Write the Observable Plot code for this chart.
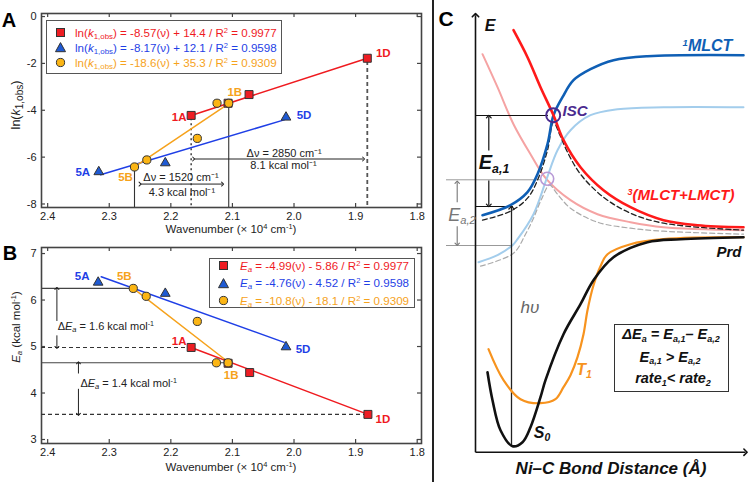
<!DOCTYPE html>
<html><head><meta charset="utf-8">
<script src="https://cdn.jsdelivr.net/npm/d3@7"></script>
<script src="https://cdn.jsdelivr.net/npm/@observablehq/plot@0.6"></script>
<style>
html,body{margin:0;padding:0;background:#fff;}
#wrap{position:relative;width:750px;height:482px;overflow:hidden;font-family:"Liberation Sans",Arial,Helvetica,sans-serif;color:#222;background:#fff;}
#wrap > svg{position:absolute;}
.lbl{position:absolute;white-space:nowrap;line-height:1;transform:translate(-50%,-50%);}
.lft{transform:translate(0,-50%);}
.sb{font-size:0.68em;position:relative;top:0.3em;}
.sp{font-size:0.65em;position:relative;top:-0.5em;}
.leg{position:absolute;background:#fff;border:1.3px solid #555;box-sizing:border-box;}
.row{position:absolute;white-space:nowrap;line-height:1;transform:translate(0,-50%);}
</style></head>
<body><div id="wrap"></div>
<script>
const wrap = document.getElementById("wrap");
const FONT = '"Liberation Sans", Arial, Helvetica, sans-serif';
const RED = "#ef1a1f", BLUE = "#1f3fe6", ORANGE = "#f6a21c";
const RED_F = "#ee1d23", BLUE_F = "#1f5ad3", ORANGE_F = "#fbb514";
const EDGE = "#333";

// ---------- shared ticks ----------
const xTicks = [2.4, 2.3, 2.2, 2.1, 2.0, 1.9, 1.8];
const yTicksA = [0, -2, -4, -6, -8];
const yTicksB = [3, 4, 5, 6, 7];

// ---------- Panel A : ln(k1,obs) vs wavenumber ----------
const wnRedA = [2.167, 2.107, 2.073, 1.881];
const lnkRed = [-4.22, -3.70, -3.33, -1.78];
const wnBlueA = [2.317, 2.209, 2.013];
const lnkBlue = [-6.63, -6.25, -4.30];
const wnOrangeA = [2.259, 2.239, 2.157, 2.125, 2.106];
const lnkOrange = [-6.42, -6.12, -5.20, -3.70, -3.70];
const fitWnRedA = [2.167, 1.881], fitLnkRed = [-4.22, -1.78];
const fitWnBlueA = [2.314, 2.016], fitLnkBlue = [-6.75, -4.41];
const fitWnOrangeA = [2.259, 2.106], fitLnkOrange = [-6.42, -3.72];
const guideSolidWnA = [2.259, 2.106], guideSolidTopA = [-6.5, -3.78];
const guideDotWnA = [2.167], guideDotTopA = [-4.36];
const guideDashWnA = [1.881], guideDashTopA = [-1.92];
const arrowX1A = [2.250, 2.163], arrowX2A = [2.116, 1.887], arrowYA = [-7.15, -6.08];
const noteTextA = ["Δν = 1520 cm⁻¹", "4.3 kcal mol⁻¹", "Δν = 2850 cm⁻¹", "8.1 kcal mol⁻¹"];
const noteWnA = [2.1835, 2.1820, 2.0160, 2.0170];
const noteLnkA = [-6.87, -7.51, -5.84, -6.37];

// ---------- Panel B : Ea vs wavenumber ----------
const wnRedB = [2.167, 2.107, 2.072, 1.880];
const eaRed = [4.98, 4.64, 4.44, 3.54];
const wnBlueB = [2.318, 2.209, 2.013];
const eaBlue = [6.38, 6.14, 4.99];
const wnOrangeB = [2.261, 2.240, 2.157, 2.126, 2.107];
const eaOrange = [6.25, 6.08, 5.54, 4.65, 4.65];
const fitWnRedB = [2.167, 1.880], fitEaRed = [4.98, 3.54];
const fitWnBlueB = [2.313, 2.016], fitEaBlue = [6.50, 5.09];
const fitWnOrangeB = [2.261, 2.110], fitEaOrange = [6.25, 4.70];
const levSolidEa = [6.25, 4.65], levSolidWn = [2.262, 2.107];
const levDashEa = [4.98, 3.54], levDashWn = [2.167, 1.880];
const arrWnB = [2.385, 2.385, 2.350, 2.350];
const arrFromB = [5.55, 5.24, 4.42, 4.09];
const arrToB = [6.25, 4.98, 4.65, 3.54];

// ---------- legends ----------
const legSlopeA = ["-8.57", "-8.17", "-18.6"], legIntA = ["+ 14.4", "+ 12.1", "+ 35.3"];
const legSlopeB = ["-4.99", "-4.76", "-10.8"], legIntB = ["- 5.86", "- 4.52", "- 18.1"];
const legR2 = ["0.9977", "0.9598", "0.9309"];

// ---------- Panel C : schematic potential energy curves (x: distance, E: energy; arbitrary units) ----------
const mlct1X = [7, 35, 52, 62, 72, 78, 87, 98, 115, 138, 172, 268];
const mlct1E = [237, 247, 260, 278, 308, 337, 355, 372, 383, 392, 396, 397];
const mlct3X = [38, 52, 65, 78, 88, 105, 128, 155, 188, 222, 268];
const mlct3E = [422, 395, 365, 337, 312, 285, 262, 245, 232, 227, 225];
const pinkX = [7, 22, 38, 55, 71, 95, 122, 155, 188, 268];
const pinkE = [398, 365, 328, 298, 273, 252, 238, 230, 225, 222];
const ltBlueX = [3, 22, 37, 42, 58, 71, 82, 95, 115, 142, 188, 268];
const ltBlueE = [190, 197, 207, 213, 238, 273, 302, 322, 337, 343, 345, 345];
const dashBkX = [7, 35, 52, 62, 72, 78, 84, 92, 105, 128, 155, 188, 268];
const dashBkE = [232, 241, 254, 272, 302, 330, 318, 300, 278, 255, 239, 229, 222];
const dashGyX = [5, 38, 50, 58, 66, 74, 82, 95, 122, 155, 188, 268];
const dashGyE = [186, 199, 218, 234, 253, 267, 258, 244, 230, 224, 221, 218];
const t1X = [13, 28, 45, 65, 80, 88, 95, 102, 108, 112, 118, 125, 132, 155, 188, 268];
const t1E = [103, 72, 53, 49, 53, 65, 77, 95, 118, 142, 167, 186, 198, 208, 213, 215];
const s0X = [12, 17, 25, 37, 47, 55, 65, 70, 88, 105, 118, 138, 172, 205, 268];
const s0E = [80, 52, 22, 6, 10, 25, 55, 72, 118, 148, 172, 195, 210, 213, 215];
const hBkE = [336.7, 245.7], hBkX1 = [1, 1], hBkX2 = [73, 38];
const hGyE = [272.4, 206.7], hGyX1 = [-29, -29], hGyX2 = [66, 36];

// ---------- helpers ----------
const P = (xs, ys) => xs.map((x, i) => ({x, y: ys[i]}));
function boxTicks(W, H, ml, mr, mt, mb, yt) {
  const fw = W - ml - mr, fh = H - mt - mb, L = 4;
  const o = {stroke: "#444", strokeWidth: 1.2};
  return [
    Plot.tickX(xTicks, {x: d => d, insetTop: fh - L, ...o}),
    Plot.tickX(xTicks, {x: d => d, insetBottom: fh - L, ...o}),
    Plot.tickY(yt, {y: d => d, insetRight: fw - L, ...o}),
    Plot.tickY(yt, {y: d => d, insetLeft: fw - L, ...o}),
    Plot.frame({stroke: "#444", strokeWidth: 1.6})
  ];
}
const dots = (xs, ys, symbol, fill, r) => Plot.dot(P(xs, ys), {x: "x", y: "y", symbol, fill, stroke: EDGE, strokeWidth: 1, r});
const fit = (xs, ys, color) => Plot.line(P(xs, ys), {x: "x", y: "y", stroke: color, strokeWidth: 1.5});
const lab = (t, x, y, color, dx, dy) => Plot.text([{x, y}], {x: "x", y: "y", text: () => t, fill: color, dx, dy, fontSize: 11.5, fontWeight: "bold"});
const xAxisOpts = {domain: [2.41, 1.793], ticks: xTicks, tickFormat: d => d.toFixed(1), tickSize: 0, tickPadding: 5, label: null};
const plotStyle = {fontFamily: FONT, fontSize: "11px", color: "#222", background: "transparent", overflow: "visible"};

function place(el, left, top) { el.style.left = left + "px"; el.style.top = top + "px"; wrap.appendChild(el); }
function txt(html, cx, cy, css = {}, cls = "") {
  const d = document.createElement("div");
  d.className = "lbl " + cls; d.innerHTML = html; Object.assign(d.style, css);
  place(d, cx, cy); return d;
}
function rot(html, cx, cy, css = {}) {
  const d = txt(html, cx, cy, css); d.style.transform = "translate(-50%,-50%) rotate(-90deg)"; return d;
}
function mk(shape, fill) {
  const s = shape === "square" ? `<rect x="1.5" y="1.5" width="8" height="8" fill="${fill}" stroke="#333" stroke-width="1"/>`
    : shape === "triangle" ? `<polygon points="5.5,0.6 10.5,9.7 0.5,9.7" fill="${fill}" stroke="#333" stroke-width="1"/>`
    : `<circle cx="5.5" cy="5.5" r="4.1" fill="${fill}" stroke="#333" stroke-width="1"/>`;
  return `<svg width="11" height="11" style="position:absolute;left:-5.5px;top:-5.5px;overflow:visible">${s}</svg>`;
}
function legend(left, top, w, h, rows, mx, tx, fs) {
  const box = document.createElement("div"); box.className = "leg";
  Object.assign(box.style, {width: w + "px", height: h + "px"});
  rows.forEach(r => {
    const m = document.createElement("div");
    m.style.cssText = `position:absolute;left:${mx}px;top:${r.y}px;`; m.innerHTML = mk(r.shape, r.fill); box.appendChild(m);
    const t = document.createElement("div"); t.className = "row";
    t.style.cssText += `left:${tx}px;top:${r.y}px;color:${r.color};font-size:${fs}px;`;
    t.innerHTML = r.html; box.appendChild(t);
  });
  place(box, left, top);
}
const lin = s => d3.scaleLinear(s.domain, s.range);

// ================= Panel A =================
const yDomA = [-8.15, 0.13];
const plotA = Plot.plot({
  width: 430, height: 240, marginLeft: 41, marginRight: 9, marginTop: 13, marginBottom: 33,
  style: plotStyle,
  x: xAxisOpts,
  y: {domain: yDomA, ticks: yTicksA, tickFormat: d => String(d), tickSize: 0, tickPadding: 5, label: null},
  marks: [
    ...boxTicks(430, 240, 41, 9, 13, 33, yTicksA),
    Plot.ruleX(P(guideSolidWnA, guideSolidTopA), {x: "x", y1: "y", y2: () => yDomA[0], stroke: "#333", strokeWidth: 1.1}),
    Plot.ruleX(P(guideDotWnA, guideDotTopA), {x: "x", y1: "y", y2: () => yDomA[0], stroke: "#333", strokeWidth: 1.4, strokeDasharray: "2,3"}),
    Plot.ruleX(P(guideDashWnA, guideDashTopA), {x: "x", y1: "y", y2: () => yDomA[0], stroke: "#555", strokeWidth: 1.8, strokeDasharray: "4,3"}),
    Plot.link(arrowX1A.map((x1, i) => ({x1, x2: arrowX2A[i], y: arrowYA[i]})), {x1: "x1", x2: "x2", y1: "y", y2: "y", stroke: "#222", strokeWidth: 1, markerStart: "arrow", markerEnd: "arrow"}),
    Plot.text(noteTextA.map((t, i) => ({t, x: noteWnA[i], y: noteLnkA[i]})), {x: "x", y: "y", text: "t", fontSize: 11, fill: "#222"}),
    fit(fitWnBlueA, fitLnkBlue, BLUE),
    fit(fitWnRedA, fitLnkRed, RED),
    fit(fitWnOrangeA, fitLnkOrange, ORANGE),
    dots(wnBlueA, lnkBlue, "triangle", BLUE_F, 3.6),
    dots(wnRedA, lnkRed, "square", RED_F, 4.5),
    dots(wnOrangeA, lnkOrange, "circle", ORANGE_F, 4.1),
    lab("1A", wnRedA[0], lnkRed[0], RED, -12, 2),
    lab("1B", wnOrangeA[4], lnkOrange[4], ORANGE, 6, -11),
    lab("1D", wnRedA[3], lnkRed[3], RED, 16, -5),
    lab("5A", wnBlueA[0], lnkBlue[0], BLUE, -16, 0),
    lab("5B", wnOrangeA[0], lnkOrange[0], ORANGE, -9, 10),
    lab("5D", wnBlueA[2], lnkBlue[2], BLUE, 18, -2)
  ]
});
place(plotA, 0, 0);

// ================= Panel B =================
const yDomB = [2.914, 7.13];
const plotB = Plot.plot({
  width: 430, height: 252, marginLeft: 41, marginRight: 9, marginTop: 17, marginBottom: 39,
  style: plotStyle,
  x: xAxisOpts,
  y: {domain: yDomB, ticks: yTicksB, tickFormat: d => String(d), tickSize: 0, tickPadding: 5, label: null},
  marks: [
    ...boxTicks(430, 252, 41, 9, 17, 39, yTicksB),
    Plot.ruleY(P(levSolidWn, levSolidEa), {y: "y", x1: () => xAxisOpts.domain[0], x2: "x", stroke: "#444", strokeWidth: 1.1}),
    Plot.ruleY(P(levDashWn, levDashEa), {y: "y", x1: () => xAxisOpts.domain[0], x2: "x", stroke: "#333", strokeWidth: 1.1, strokeDasharray: "4,3"}),
    Plot.link(arrWnB.map((x, i) => ({x, y1: arrFromB[i], y2: arrToB[i]})), {x1: "x", x2: "x", y1: "y1", y2: "y2", stroke: "#222", strokeWidth: 1, markerEnd: "arrow"}),
    fit(fitWnBlueB, fitEaBlue, BLUE),
    fit(fitWnRedB, fitEaRed, RED),
    fit(fitWnOrangeB, fitEaOrange, ORANGE),
    dots(wnBlueB, eaBlue, "triangle", BLUE_F, 3.6),
    dots(wnRedB, eaRed, "square", RED_F, 4.5),
    dots(wnOrangeB, eaOrange, "circle", ORANGE_F, 4.1),
    lab("1A", wnRedB[0], eaRed[0], RED, -12, -6),
    lab("1B", wnOrangeB[4], eaOrange[4], ORANGE, 3, 13),
    lab("1D", wnRedB[3], eaRed[3], RED, 15, 5),
    lab("5A", wnBlueB[0], eaBlue[0], BLUE, -16, -6),
    lab("5B", wnOrangeB[0], eaOrange[0], ORANGE, -9, -12),
    lab("5D", wnBlueB[2], eaBlue[2], BLUE, 17, 2)
  ]
});
place(plotB, 0, 230);

// ΔEa notes positioned through panel B scales
{
  const sx = lin(plotB.scale("x")), sy = lin(plotB.scale("y"));
  txt('Δ<i>E</i><i class="sb">a</i> = 1.6 kcal mol<span class="sp">-1</span>', sx(2.383), 230 + sy(5.41), {fontSize: "11px"}, "lft");
  txt('Δ<i>E</i><i class="sb">a</i> = 1.4 kcal mol<span class="sp">-1</span>', sx(2.346), 230 + sy(4.19), {fontSize: "11px"}, "lft");
}

// legends
const shapes = ["square", "triangle", "circle"], fills = [RED_F, BLUE_F, ORANGE_F], cols = [RED, BLUE, ORANGE];
legend(46, 20, 236, 54, [0, 1, 2].map(i => ({
  y: 11.5 + 15 * i, shape: shapes[i], fill: fills[i], color: cols[i],
  html: `ln(<i>k</i><span class="sb">1,obs</span>) = ${legSlopeA[i]}(ν) ${legIntA[i]} / R<span class="sp">2</span> = ${legR2[i]}`
})), 13, 28, 11.6);
legend(209, 257.5, 206, 50, [0, 1, 2].map(i => ({
  y: 7 + 17.5 * i, shape: shapes[i], fill: fills[i], color: cols[i],
  html: `<i>E</i><i class="sb">a</i> = ${legSlopeB[i]}(ν) ${legIntB[i]} / R<span class="sp">2</span> = ${legR2[i]}`
})), 13.5, 30, 11.6);

// axis titles A/B
txt('Wavenumber (× 10<span class="sp">4</span> cm<span class="sp">-1</span>)', 231, 230, {fontSize: "11.5px"});
txt('Wavenumber (× 10<span class="sp">4</span> cm<span class="sp">-1</span>)', 231, 468, {fontSize: "11.5px"});
rot('ln(<i>k</i><span class="sb" style="font-size:0.8em">1,obs</span>)', 16, 105, {fontSize: "12.5px"});
rot('<i>E</i><i class="sb">a</i> (kcal mol<span class="sp">-1</span>)', 17, 327, {fontSize: "11.5px"});

// panel letters
txt("A", 9, 20, {fontSize: "20px", fontWeight: "bold", color: "#000"});
txt("B", 10, 253, {fontSize: "20px", fontWeight: "bold", color: "#000"});
txt("C", 446, 17.5, {fontSize: "21px", fontWeight: "bold", color: "#000"});

// ================= Panel C =================
const curve = (xs, es, stroke, w, dash) => Plot.line(P(xs, es), {x: "x", y: "y", curve: "catmull-rom", stroke, strokeWidth: w, strokeDasharray: dash});
const plotC = Plot.plot({
  width: 314, height: 482, marginLeft: 39, marginRight: 5, marginTop: 11.7, marginBottom: 30.3,
  x: {domain: [0, 270], axis: null}, y: {domain: [0, 440], axis: null},
  style: {background: "transparent", overflow: "visible"},
  marks: [
    Plot.ruleY(hGyE.map((y, i) => ({y, x1: hGyX1[i], x2: hGyX2[i]})), {y: "y", x1: "x1", x2: "x2", stroke: "#999", strokeWidth: 1}),
    curve(pinkX, pinkE, "#f5a3a3", 2),
    curve(ltBlueX, ltBlueE, "#a3cdec", 2),
    curve(dashGyX, dashGyE, "#aaa", 1.2, "5,3"),
    Plot.dot([{x: 71.7, y: 273.4}], {x: "x", y: "y", r: 6.5, stroke: "#b89ad6", strokeWidth: 1.6, fill: "none"}),
    Plot.ruleY(hBkE.map((y, i) => ({y, x1: hBkX1[i], x2: hBkX2[i]})), {y: "y", x1: "x1", x2: "x2", stroke: "#111", strokeWidth: 1.2}),
    curve(dashBkX, dashBkE, "#222", 1.3, "5,3"),
    curve(mlct1X, mlct1E, "#0f5fb5", 2.6),
    curve(mlct3X, mlct3E, "#ff1a1a", 2.6),
    Plot.dot([{x: 77.7, y: 337}], {x: "x", y: "y", r: 7, stroke: "#4a2b8f", strokeWidth: 2, fill: "none"}),
    // Ea,1 arrows (black) and Ea,2 arrows (grey)
    Plot.link([{x: 13.3, a: 301.7, b: 335.5}, {x: 13.3, a: 271.7, b: 246.8}], {x1: "x", x2: "x", y1: "a", y2: "b", stroke: "#111", strokeWidth: 1.2, markerEnd: "arrow"}),
    Plot.link([{x: -18.3, a: 250, b: 270}, {x: -18.3, a: 226, b: 208}], {x1: "x", x2: "x", y1: "a", y2: "b", stroke: "#777", strokeWidth: 1.1, markerEnd: "arrow"}),
    // h nu excitation
    Plot.link([{x: 36, a: 5.7, b: 244.5}], {x1: "x", x2: "x", y1: "a", y2: "b", stroke: "#222", strokeWidth: 1.3, markerEnd: "arrow"}),
    curve(t1X, t1E, "#f7931e", 2.2),
    curve(s0X, s0E, "#111", 2.6),
    // axes
    Plot.link([{x1: 0, y1: 0, x2: 0, y2: 437}, {x1: 0, y1: 0, x2: 270, y2: 0}], {x1: "x1", y1: "y1", x2: "x2", y2: "y2", stroke: "#111", strokeWidth: 1.6, markerEnd: "arrow"})
  ]
});
place(plotC, 436, 0);

// divider
const dv = document.createElement("div");
dv.style.cssText = "position:absolute;left:432px;top:0;width:1.6px;height:482px;background:#222;";
wrap.appendChild(dv);

// Panel C labels
const bi = {fontWeight: "bold", fontStyle: "italic"};
txt("E", 490, 25.5, {fontSize: "16px", ...bi, color: "#111"});
txt('<span class="sp" style="font-size:0.6em">1</span>MLCT', 707.5, 45.5, {fontSize: "16px", ...bi, color: "#0f5fb5"});
txt("ISC", 575, 109.5, {fontSize: "15px", ...bi, color: "#4a2b8f"});
txt('<span class="sp" style="font-size:0.6em">3</span>(MLCT+LMCT)', 681, 193.5, {fontSize: "15px", ...bi, color: "#ff1a1a"});
txt("Prd", 729, 250.5, {fontSize: "15px", ...bi, color: "#111"});
txt('T<span class="sb" style="font-size:0.65em">1</span>', 584, 370, {fontSize: "16px", ...bi, color: "#f7931e"});
txt('S<span class="sb" style="font-size:0.65em">0</span>', 542, 432.5, {fontSize: "16px", ...bi, color: "#111"});
txt("hυ", 530, 307, {fontSize: "17px", fontStyle: "italic", color: "#666"});
txt('E<span class="sb" style="font-size:0.62em">a,1</span>', 494, 162, {fontSize: "20px", ...bi, color: "#111", background: "#fff"});
txt('E<span class="sb" style="font-size:0.62em">a,2</span>', 462, 214.5, {fontSize: "18px", fontStyle: "italic", color: "#777"});
txt("Ni–C Bond Distance (Å)", 611, 467.5, {fontSize: "17px", ...bi, color: "#111"});

// box in panel C
const bx = document.createElement("div");
bx.style.cssText = "position:absolute;left:613.5px;top:323.5px;width:115px;height:68px;border:1.3px solid #333;box-sizing:border-box;background:#fff;";
wrap.appendChild(bx);
const sbs = t => `<span class="sb" style="font-size:0.62em">${t}</span>`;
txt(`ΔE${sbs("a")} = E${sbs("a,1")}– E${sbs("a,2")}`, 671, 334, {fontSize: "14.5px", ...bi, color: "#111"});
txt(`E${sbs("a,1")} &gt; E${sbs("a,2")}`, 670, 356.5, {fontSize: "14.5px", ...bi, color: "#111"});
txt(`rate${sbs("1")}&lt; rate${sbs("2")}`, 673, 378, {fontSize: "14.5px", ...bi, color: "#111"});
</script></body></html>
